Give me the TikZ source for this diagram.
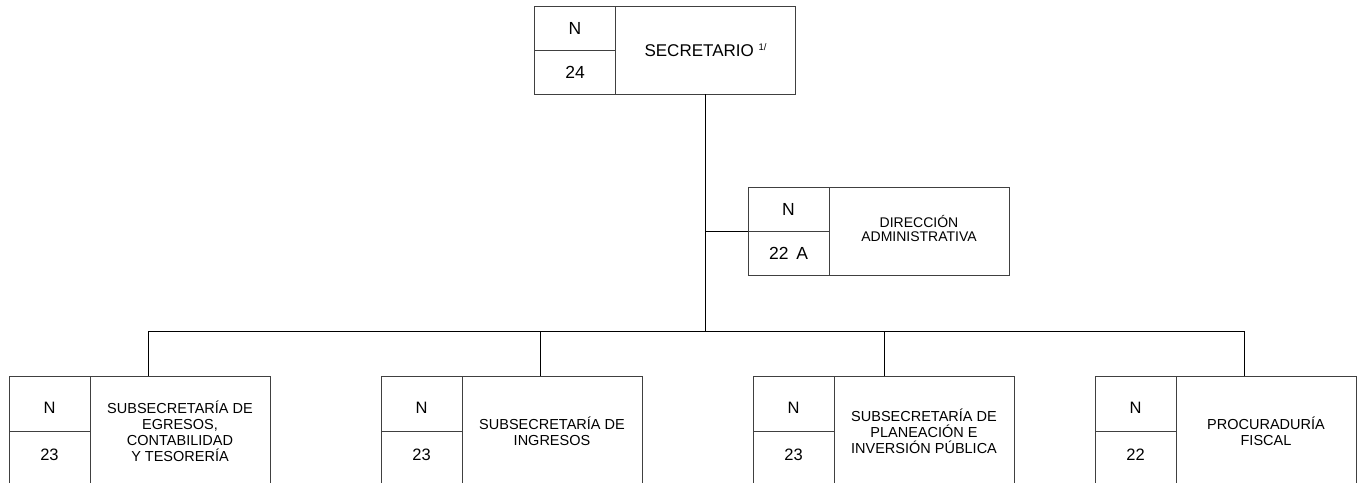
\documentclass[tikz,border=0pt]{standalone}
\usepackage{fontspec}
\setmainfont{Liberation Sans}
\usetikzlibrary{positioning}

\tikzset{
  unit/.style={draw=black!75, line width=0.9pt, outer sep=0pt, inner sep=2pt, align=center},
  namebox/.style={unit, minimum width=180pt},
  codebox/.style={unit, minimum width=81pt},
  upcode/.style={codebox, minimum height=55pt, text height=20pt},
  lowcode/.style={codebox, minimum height=55pt, text height=12pt, text depth=8pt},
  link/.style={draw=black, line width=1pt}
}

\begin{document}
\begin{tikzpicture}[x=1pt,y=-1pt]
\useasboundingbox (0,0) rectangle (1357,482);
\clip (0,0) rectangle (1357,482);

% top
\node[namebox, minimum height=88pt, anchor=north west, font=\fontsize{17}{20}\selectfont] (sec) at (615.5,6) {SECRETARIO \raisebox{6pt}{\fontsize{9.5}{9}\selectfont 1/}};
\node[codebox, minimum height=44pt, anchor=north east, font=\fontsize{17.5}{20}\selectfont] (secN) at (sec.north west) {N};
\node[codebox, minimum height=44pt, anchor=north, font=\fontsize{17.5}{20}\selectfont] (secC) at (secN.south) {24};

% staff unit
\node[namebox, minimum height=88pt, anchor=north west, font=\fontsize{14}{14}\selectfont, text depth=6pt] (dir) at (829,187) {DIRECCIÓN\\ADMINISTRATIVA};
\node[codebox, minimum height=44pt, anchor=north east, font=\fontsize{17.5}{20}\selectfont] (dirN) at (dir.north west) {N};
\node[codebox, minimum height=44pt, anchor=north, font=\fontsize{17.5}{20}\selectfont] (dirC) at (dirN.south) {22\, A};

% subsecretarias
\node[namebox, minimum height=110pt, anchor=north west, font=\fontsize{14.5}{16}\selectfont] (egr) at (90,376) {SUBSECRETARÍA DE\\EGRESOS,\\CONTABILIDAD\\Y TESORERÍA};
\node[upcode, anchor=north east, font=\fontsize{16.5}{20}\selectfont] (egrN) at (egr.north west) {N};
\node[lowcode, anchor=north, font=\fontsize{16.5}{20}\selectfont] (egrC) at (egrN.south) {23};

\node[namebox, minimum height=110pt, anchor=north west, font=\fontsize{14.5}{16}\selectfont] (ing) at (462,376) {SUBSECRETARÍA DE\\INGRESOS};
\node[upcode, anchor=north east, font=\fontsize{16.5}{20}\selectfont] (ingN) at (ing.north west) {N};
\node[lowcode, anchor=north, font=\fontsize{16.5}{20}\selectfont] (ingC) at (ingN.south) {23};

\node[namebox, minimum height=110pt, anchor=north west, font=\fontsize{14.5}{16}\selectfont] (pla) at (834,376) {SUBSECRETARÍA DE\\PLANEACIÓN E\\INVERSIÓN PÚBLICA};
\node[upcode, anchor=north east, font=\fontsize{16.5}{20}\selectfont] (plaN) at (pla.north west) {N};
\node[lowcode, anchor=north, font=\fontsize{16.5}{20}\selectfont] (plaC) at (plaN.south) {23};

\node[namebox, minimum height=110pt, anchor=north west, font=\fontsize{14.5}{16}\selectfont] (pro) at (1176,376) {PROCURADURÍA\\FISCAL};
\node[upcode, anchor=north east, font=\fontsize{16.5}{20}\selectfont] (proN) at (pro.north west) {N};
\node[lowcode, anchor=north, font=\fontsize{16.5}{20}\selectfont] (proC) at (proN.south) {22};

% lines
\coordinate (b1) at (148,331);
\coordinate (b2) at (540,331);
\coordinate (b3) at (884,331);
\coordinate (b4) at (1244,331);
\draw[link] (sec.south) -- (sec.south |- b1);
\draw[link] (dirN.south west) -- (dirN.south west -| sec.south);
\draw[link] (b1) -- (b4);
\draw[link] (b1) -- (b1 |- egr.north);
\draw[link] (b2) -- (b2 |- ing.north);
\draw[link] (b3) -- (b3 |- pla.north);
\draw[link] (b4) -- (b4 |- pro.north);
\end{tikzpicture}
\end{document}
